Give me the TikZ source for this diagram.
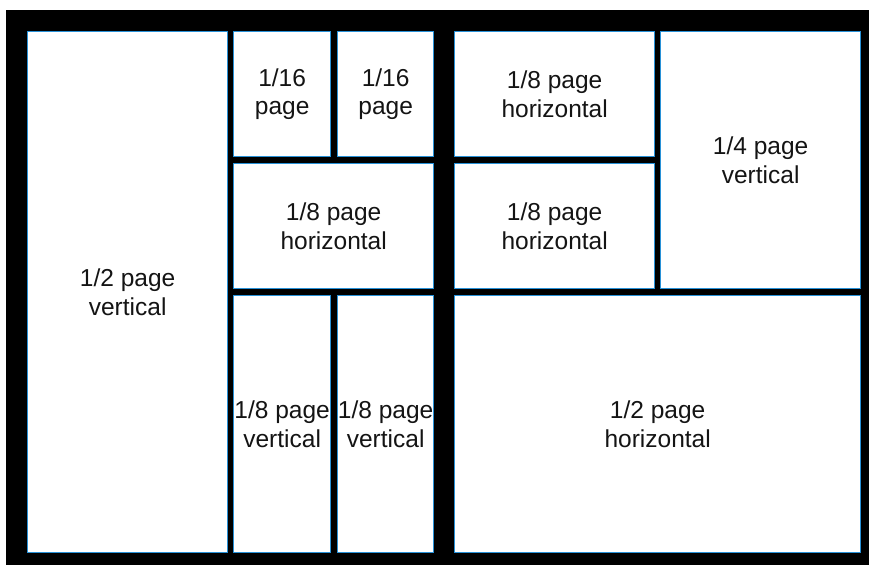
\documentclass[tikz,border=0pt]{standalone}
\usepackage{fontspec}
\setmainfont{Liberation Sans}
\definecolor{boxblue}{RGB}{40,145,215}
\definecolor{txt}{RGB}{20,20,20}
\begin{document}
\begin{tikzpicture}[x=1pt,y=-1pt,
  pbox/.style={draw=boxblue, line width=1.3pt, fill=white, inner sep=0pt,
    anchor=north west, align=center, text=txt,
    font=\fontsize{24.5}{28.5}\selectfont}]
\useasboundingbox (0,0) rectangle (869,565);
\fill[black] (6,10) rectangle (869,565);
\node[pbox, minimum width=200pt, minimum height=521pt] (half) at (27,31) {1/2 page\\vertical};
\node[pbox, minimum width=97pt, minimum height=125pt] (s1) at (233,31) {1/16\\page};
\node[pbox, minimum width=96pt, minimum height=125pt] (s2) at (337,31) {1/16\\page};
\node[pbox, minimum width=200pt, minimum height=125pt] (h1) at (233,163) {1/8 page\\horizontal};
\node[pbox, minimum width=97pt, minimum height=257pt] (v1) at (233,295) {1/8 page\\vertical};
\node[pbox, minimum width=96pt, minimum height=257pt] (v2) at (337,295) {1/8 page\\vertical};
\node[pbox, minimum width=200pt, minimum height=125pt] (h2) at (454,31) {1/8 page\\horizontal};
\node[pbox, minimum width=200pt, minimum height=125pt] (h3) at (454,163) {1/8 page\\horizontal};
\node[pbox, minimum width=200pt, minimum height=257pt] (q) at (660,31) {1/4 page\\vertical};
\node[pbox, minimum width=406pt, minimum height=257pt] (hh) at (454,295) {1/2 page\\horizontal};
\end{tikzpicture}
\end{document}
